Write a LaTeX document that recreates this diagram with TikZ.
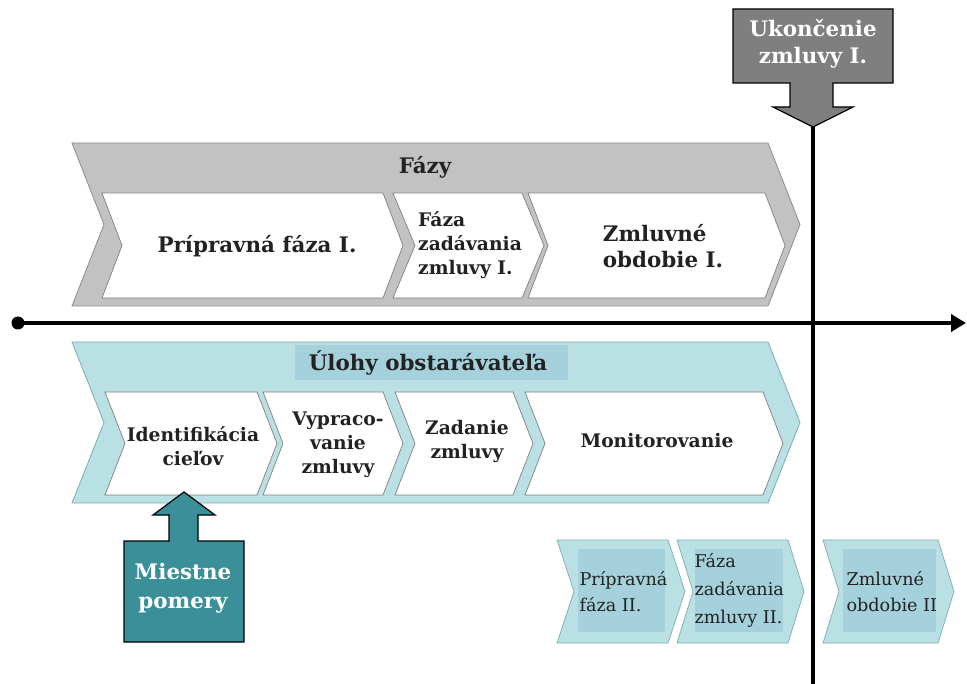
\documentclass[tikz,border=0pt]{standalone}
\usepackage{fontspec}
\setmainfont{DejaVu Serif}
\usetikzlibrary{arrows.meta}
\definecolor{phasegray}{HTML}{C2C2C2}
\definecolor{phaseedge}{HTML}{8C8C8C}
\definecolor{innerwhiteedge}{HTML}{7F7F7F}
\definecolor{tasklight}{HTML}{B9E0E3}
\definecolor{taskedge}{HTML}{7FABB0}
\definecolor{taskdark}{HTML}{A5D1DC}
\definecolor{endgray}{HTML}{7F7F7F}
\definecolor{localteal}{HTML}{3B8F98}
\definecolor{textdark}{HTML}{222222}
% chevron: #1 style, #2 left x, #3 right x, #4 top y, #5 bottom y, #6 point depth
\newcommand\chevron[6]{%
  \path[#1] (#2,#4) -- (#3,#4) -- ({#3+#6},{(#4+#5)/2}) -- (#3,#5) -- (#2,#5)
    -- ({#2+#6},{(#4+#5)/2}) -- cycle;}
\begin{document}
\begin{tikzpicture}[x=1pt,y=-1pt,
  graybar/.style={fill=phasegray,draw=phaseedge,line width=0.8pt},
  whitebox/.style={fill=white,draw=innerwhiteedge,line width=0.7pt},
  tealbar/.style={fill=tasklight,draw=taskedge,line width=0.8pt},
  smallchev/.style={fill=tasklight,draw=taskedge,line width=0.7pt},
  bigtitle/.style={font=\bfseries\fontsize{21.4}{26}\selectfont,text=textdark},
  boxlabel/.style={font=\bfseries\fontsize{18.7}{24}\selectfont,text=textdark,align=center},
  plainlabel/.style={font=\fontsize{17.6}{26}\selectfont,text=textdark,align=left,anchor=west},
  whitelabel/.style={font=\bfseries\fontsize{21.4}{27}\selectfont,text=white,align=center},
  axis/.style={line width=4pt,black}]
\useasboundingbox (0,0) rectangle (967,684);

% upper band: phases
\chevron{graybar}{72}{768}{143}{306}{32}
\chevron{whitebox}{102}{383}{193}{298}{20}
\chevron{whitebox}{393}{522}{193}{298}{22}
\chevron{whitebox}{528}{765}{193}{298}{20}
\node[bigtitle] (phases) at (425,167) {Fázy};
\node[bigtitle] (prep1) at (257,246) {Prípravná fáza I.};
\node[boxlabel,align=left] (tender1) at (470,245) {Fáza\\zadávania\\zmluvy I.};
\node[bigtitle,align=left] (contract1) at (663,246) {Zmluvné\\obdobie I.};

% lower band: tasks of the contracting party
\chevron{tealbar}{72}{768}{342}{503}{32}
\fill[taskdark] (295,345) rectangle (568,380);
\chevron{whitebox}{105}{257}{392}{495}{20}
\chevron{whitebox}{263}{383}{392}{495}{20}
\chevron{whitebox}{395}{513}{392}{495}{20}
\chevron{whitebox}{525}{763}{392}{495}{20}
\node[bigtitle] (tasks) at (428,363) {Úlohy obstarávateľa};
\node[boxlabel] (ident) at (193,446) {Identifikácia\\cieľov};
\node[boxlabel] (draft) at (338,445) {Vypraco-\\vanie\\zmluvy};
\node[boxlabel] (assign) at (467,441) {Zadanie\\zmluvy};
\node[boxlabel] (monitor) at (657,441) {Monitorovanie};

% time axis
\coordinate (tstart) at (18,323);
\coordinate (tend) at (966,323);
\draw[axis,-{Triangle[length=15pt,width=17pt]}] (tstart) -- (tend);
\fill (tstart) circle (6.5);

% end of contract marker and its vertical line
\path[fill=endgray,draw=black,line width=1.2pt]
  (733,9) -- (893,9) -- (893,83) -- (833,83) -- (833,107) -- (853,107)
  -- (813,127) -- (773,107) -- (790,107) -- (790,83) -- (733,83) -- cycle;
\node[whitelabel] (endlabel) at (813,44) {Ukončenie\\zmluvy I.};
\coordinate (endtip) at (813,127);
\coordinate (endfoot) at (813,684);
\draw[line width=4.5pt] (endtip) -- (endfoot);

% local conditions arrow
\path[fill=localteal,draw=black,line width=1.2pt]
  (124,642) -- (124,541) -- (169,541) -- (169,515) -- (153,515) -- (184,492)
  -- (215,515) -- (198,515) -- (198,541) -- (244,541) -- (244,642) -- cycle;
\node[whitelabel,font=\bfseries\fontsize{21.4}{29}\selectfont]
  (local) at (183,588) {Miestne\\pomery};

% second contract cycle
\chevron{smallchev}{557}{668}{540}{643}{17}
\fill[taskdark] (578,549) rectangle (665,632);
\chevron{smallchev}{677}{788}{540}{643}{16}
\fill[taskdark] (695,549) rectangle (783,632);
\chevron{smallchev}{823}{938}{540}{643}{16}
\fill[taskdark] (843,549) rectangle (936,632);
\node[plainlabel] (prep2) at (576,592) {Prípravná\\fáza II.};
\node[plainlabel,font=\fontsize{17.6}{28}\selectfont] (tender2) at (691,590) {Fáza\\zadávania\\zmluvy II.};
\node[plainlabel] (contract2) at (843,592) {Zmluvné\\obdobie II};
\end{tikzpicture}
\end{document}
